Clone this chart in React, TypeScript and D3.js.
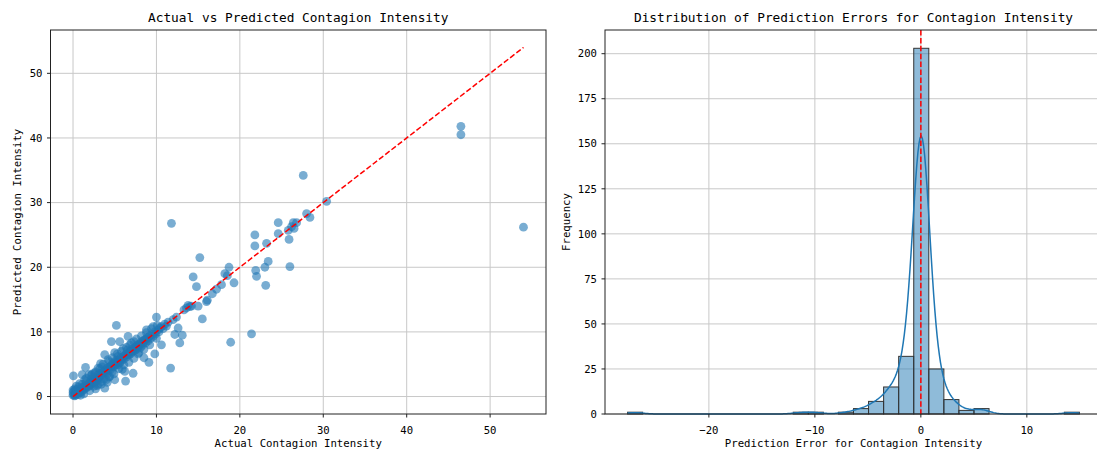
import { useEffect, useRef } from 'react';
import * as d3 from 'd3';

// [actual, predicted]
const scatterPoints: [number, number][] = [
  [0.0, 0.2], [0.0, 0.6], [0.0, 1.0], [0.05, 3.2], [0.1, 0.3], [0.1, 0.8], [0.2, 0.1], [0.2, 1.2], [0.3, 0.5], [0.3, 0.9],
  [0.4, 0.4], [0.5, 0.7], [0.5, 1.1], [0.6, 0.3], [0.7, 0.9], [0.7, 1.5], [0.8, 0.6], [0.9, 1.0], [1.0, 0.7], [1.0, 1.3],
  [1.1, 1.9], [1.1, 3.4], [1.2, 1.0], [1.3, 1.5], [1.4, 1.2], [1.5, 1.7], [1.5, 4.5], [1.6, 2.3], [1.7, 1.4], [1.8, 1.9],
  [1.9, 3.4], [1.9, 1.6], [2.0, 2.2], [2.1, 1.8], [2.2, 2.7], [2.3, 2.0], [2.4, 2.5], [2.5, 3.0], [2.5, 1.6], [2.6, 2.2],
  [2.7, 1.2], [2.7, 3.8], [2.8, 2.8], [2.9, 2.5], [3.0, 3.3], [3.0, 4.4],
  [3.1, 2.9], [3.2, 3.6], [3.3, 3.1], [3.4, 2.3], [3.5, 3.7], [3.5, 4.6], [3.6, 3.4], [3.7, 2.7], [3.8, 4.0], [3.8, 6.5],
  [3.8, 1.3], [3.9, 3.7], [4.0, 4.3], [4.1, 3.5], [4.2, 5.7], [4.2, 4.5], [4.3, 3.0], [4.4, 4.6], [4.5, 4.2], [4.6, 8.5],
  [4.6, 4.9], [4.7, 3.8], [4.8, 5.1], [4.9, 4.6], [5.0, 5.4], [5.0, 2.6], [5.1, 4.9], [5.2, 11.0], [5.2, 5.6], [5.3, 5.1],
  [5.4, 4.9], [5.4, 6.2], [5.5, 5.7], [5.6, 8.5], [5.6, 5.2], [5.7, 6.0], [5.8, 5.5], [5.9, 4.2], [6.0, 6.2],
  [6.1, 5.8], [6.2, 3.9], [6.3, 2.4], [6.3, 6.5], [6.4, 6.1], [6.5, 7.2], [6.6, 9.3], [6.6, 6.7], [6.7, 6.4], [6.8, 8.0],
  [6.8, 7.0], [6.9, 6.6], [7.0, 7.3], [7.1, 6.9], [7.2, 3.6], [7.2, 7.4], [7.3, 8.5], [7.4, 7.1], [7.5, 7.7], [7.6, 7.3],
  [7.7, 8.0], [7.8, 6.6], [7.9, 7.8], [8.0, 8.2], [8.1, 7.6], [8.2, 8.5], [8.3, 7.9], [8.4, 8.6], [8.5, 6.0], [8.6, 8.8],
  [8.7, 8.3], [8.8, 10.3], [8.9, 9.1], [9.0, 8.6], [9.1, 5.3], [9.2, 9.4], [9.3, 9.0], [9.4, 10.5], [9.5, 9.6], [9.6, 9.3],
  [9.8, 6.6], [9.8, 10.0], [9.9, 9.7],
  [10.0, 12.3], [10.1, 11.0], [10.2, 10.3], [10.3, 10.0], [10.4, 10.6], [10.6, 8.0], [10.6, 10.8], [10.8, 10.5], [11.0, 11.2],
  [11.2, 10.9], [11.4, 11.5], [11.7, 4.4], [11.8, 26.8], [12.0, 11.9], [12.2, 9.6], [12.4, 12.3], [12.6, 10.6], [12.8, 8.3],
  [13.1, 9.5], [13.3, 13.4], [13.6, 13.7], [13.8, 14.1], [14.0, 13.9],
  [14.2, 14.0], [14.4, 18.5], [14.8, 17.0], [15.0, 14.0], [15.2, 21.5], [15.5, 12.0], [16.0, 14.7], [16.1, 14.9], [16.7, 15.9],
  [17.2, 16.6], [17.8, 17.3], [18.2, 19.0], [18.5, 18.7], [18.7, 20.0], [18.9, 8.4], [19.3, 17.6], [21.4, 9.7], [21.8, 25.0],
  [21.8, 23.3], [21.9, 19.5], [22.0, 18.6], [23.0, 20.0], [23.1, 17.2], [23.2, 23.7], [23.4, 20.9],
  [24.6, 26.9], [24.6, 25.2], [25.8, 25.7], [25.9, 24.3], [26.0, 20.1], [26.2, 26.3], [26.4, 26.9], [26.8, 26.9], [26.5, 26.0],
  [27.6, 34.2], [28.0, 28.3], [28.4, 27.7], [30.4, 30.2], [46.5, 41.8], [46.5, 40.5], [54.0, 26.2],
  [0.3, 0.2], [0.6, 0.6], [0.9, 0.8], [1.2, 1.4], [1.5, 1.4], [1.8, 1.7], [2.1, 2.1], [2.4, 2.3], [2.7, 2.6], [3.0, 2.9],
  [3.3, 3.4], [3.6, 3.7], [3.9, 4.0], [4.2, 4.1], [4.5, 4.6], [4.8, 4.7], [5.1, 5.2], [5.4, 5.4], [5.7, 5.6], [6.0, 6.0],
  [6.3, 6.4], [6.6, 6.5], [6.9, 7.0], [7.2, 7.1], [7.5, 7.5], [7.8, 7.9], [8.1, 8.1], [8.4, 8.3], [8.7, 8.8], [9.0, 9.1],
  [0.4, 1.6], [0.8, 2.0], [1.3, 0.4], [1.6, 2.8], [2.0, 0.9], [2.2, 3.3], [2.6, 3.6], [2.9, 1.7], [3.2, 4.3], [3.4, 1.9],
  [3.6, 5.0], [4.0, 2.6], [4.3, 5.4], [4.4, 3.1], [4.7, 6.0], [4.9, 3.5], [5.3, 6.6], [5.5, 4.3], [5.8, 7.0], [6.1, 4.9],
  [6.4, 7.6], [6.7, 5.3], [7.0, 8.3], [7.3, 5.9], [7.6, 8.9], [7.9, 6.8], [8.2, 9.4], [8.5, 7.3], [8.8, 9.9], [9.2, 8.0],
  [9.6, 10.8], [10.0, 9.0], [3.0, 1.9], [2.3, 3.5], [1.4, 2.6], [0.9, 0.2], [5.0, 6.8], [6.0, 7.4], [4.1, 2.2], [3.3, 5.1],
];

// histogram of prediction errors (predicted - actual), 30 bins
const errorMin = -27.67;
const errorMax = 14.96;
const binCounts = [1, 0, 0, 0, 0, 0, 0, 0, 0, 0, 0, 1, 1, 0, 1, 3, 7, 15, 32, 203, 25, 8, 2, 3, 0, 0, 0, 0, 0, 1];

const scatterTicks = [0, 10, 20, 30, 40, 50];
const errorTicks = [-20, -10, 0, 10];
const countTicks = [0, 25, 50, 75, 100, 125, 150, 175, 200];

const FONT = '"DejaVu Sans Mono", "Liberation Mono", monospace';
const BLUE = '#1f77b4';
const GRID = '#c8c8c8';

const pad5 = (lo: number, hi: number): [number, number] => {
  const m = (hi - lo) * 0.05;
  return [lo - m, hi + m];
};
const fmt = (v: number) => (v < 0 ? '\u2212' + Math.abs(v) : String(v));

export default function App() {
  const svgRef = useRef<SVGSVGElement>(null);

  useEffect(() => {
    if (!svgRef.current) return;
    const svg = d3.select(svgRef.current);
    svg.selectAll('*').remove();

    const top = 30, bottom = 414;

    const drawGrid = (g: any, x: any, y: any, xt: number[], yt: number[], x0: number, x1: number) => {
      xt.forEach(t => {
        g.append('line').attr('x1', x(t)).attr('x2', x(t)).attr('y1', top).attr('y2', bottom)
          .attr('stroke', GRID).attr('stroke-width', 1);
      });
      yt.forEach(t => {
        g.append('line').attr('x1', x0).attr('x2', x1).attr('y1', y(t)).attr('y2', y(t))
          .attr('stroke', GRID).attr('stroke-width', 1);
      });
    };

    const drawTicks = (g: any, x: any, y: any, xt: number[], yt: number[], x0: number, x1: number) => {
      g.append('rect').attr('x', x0).attr('y', top).attr('width', x1 - x0).attr('height', bottom - top)
        .attr('fill', 'none').attr('stroke', '#222').attr('stroke-width', 1);
      xt.forEach(t => {
        g.append('line').attr('x1', x(t)).attr('x2', x(t)).attr('y1', bottom).attr('y2', bottom + 3.5)
          .attr('stroke', '#222');
        g.append('text').attr('x', x(t)).attr('y', 430).attr('dy', '0.35em').attr('text-anchor', 'middle')
          .attr('font-family', FONT).attr('font-size', 10.6).text(fmt(t));
      });
      yt.forEach(t => {
        g.append('line').attr('x1', x0 - 3.5).attr('x2', x0).attr('y1', y(t)).attr('y2', y(t))
          .attr('stroke', '#222');
        g.append('text').attr('x', x0 - 8).attr('y', y(t)).attr('dy', '0.35em').attr('text-anchor', 'end')
          .attr('font-family', FONT).attr('font-size', 10.6).text(fmt(t));
      });
    };

    // ---- left: actual vs predicted ----
    const L0 = 50.5, L1 = 546;
    const actual = scatterPoints.map(d => d[0]);
    const predicted = scatterPoints.map(d => d[1]);
    const lineLo = d3.min(actual)!, lineHi = d3.max(actual)!;
    const x = d3.scaleLinear().domain(pad5(lineLo, lineHi)).range([L0, L1]);
    const y = d3.scaleLinear()
      .domain(pad5(Math.min(d3.min(predicted)!, lineLo), Math.max(d3.max(predicted)!, lineHi)))
      .range([bottom, top]);

    const gl = svg.append('g');
    drawGrid(gl, x, y, scatterTicks, scatterTicks, L0, L1);
    gl.append('g').selectAll('circle').data(scatterPoints).join('circle')
      .attr('cx', d => x(d[0])).attr('cy', d => y(d[1])).attr('r', 4.4)
      .attr('fill', BLUE).attr('fill-opacity', 0.6);
    gl.append('line').attr('x1', x(lineLo)).attr('y1', y(lineLo)).attr('x2', x(lineHi)).attr('y2', y(lineHi))
      .attr('stroke', 'red').attr('stroke-width', 1.5).attr('stroke-dasharray', '5.5,2.4');
    drawTicks(gl, x, y, scatterTicks, scatterTicks, L0, L1);

    gl.append('text').attr('x', (L0 + L1) / 2).attr('y', 18).attr('dy', '0.35em').attr('text-anchor', 'middle')
      .attr('font-family', FONT).attr('font-size', 12.8).text('Actual vs Predicted Contagion Intensity');
    gl.append('text').attr('x', (L0 + L1) / 2).attr('y', 443).attr('dy', '0.35em').attr('text-anchor', 'middle')
      .attr('font-family', FONT).attr('font-size', 10.7).text('Actual Contagion Intensity');
    gl.append('text').attr('transform', 'translate(17,' + (top + bottom) / 2 + ') rotate(-90)')
      .attr('dy', '0.35em').attr('text-anchor', 'middle')
      .attr('font-family', FONT).attr('font-size', 10.7).text('Predicted Contagion Intensity');

    // ---- right: error distribution ----
    const R0 = 605, R1 = 1102;
    const nb = binCounts.length;
    const bw = (errorMax - errorMin) / nb;
    const edges = d3.range(nb + 1).map(i => errorMin + i * bw);
    const xr = d3.scaleLinear().domain(pad5(errorMin, errorMax)).range([R0, R1]);
    const yr = d3.scaleLinear().domain([0, d3.max(binCounts)! * 1.05]).range([bottom, top]);

    const gr = svg.append('g');
    drawGrid(gr, xr, yr, errorTicks, countTicks, R0, R1);

    const bins = binCounts.map((c, i) => ({ lo: edges[i], hi: edges[i + 1], c })).filter(b => b.c > 0);
    gr.append('g').selectAll('rect').data(bins).join('rect')
      .attr('x', d => xr(d.lo)).attr('width', d => xr(d.hi) - xr(d.lo))
      .attr('y', d => yr(d.c)).attr('height', d => yr(0) - yr(d.c))
      .attr('fill', BLUE).attr('fill-opacity', 0.5).attr('stroke', '#333').attr('stroke-width', 1);

    // gaussian KDE (scott) on the binned errors, scaled to counts
    const centers = binCounts.map((_, i) => (edges[i] + edges[i + 1]) / 2);
    const n = d3.sum(binCounts);
    const mean = d3.sum(binCounts.map((c, i) => c * centers[i])) / n;
    const sd = Math.sqrt(d3.sum(binCounts.map((c, i) => c * (centers[i] - mean) ** 2)) / (n - 1));
    const h = sd * Math.pow(n, -0.2);
    const kde = (v: number) => d3.sum(binCounts.map((c, i) => c * Math.exp(-0.5 * ((v - centers[i]) / h) ** 2)))
      / (n * h * Math.sqrt(2 * Math.PI));
    const grid = d3.range(0, 401).map(i => errorMin + (errorMax - errorMin) * i / 400);
    const kdeLine = d3.line<number>().x(v => xr(v)).y(v => yr(kde(v) * n * bw));
    gr.append('path').attr('d', kdeLine(grid)).attr('fill', 'none').attr('stroke', BLUE).attr('stroke-width', 1.5);

    gr.append('line').attr('x1', xr(0)).attr('x2', xr(0)).attr('y1', top).attr('y2', bottom)
      .attr('stroke', 'red').attr('stroke-width', 1.5).attr('stroke-dasharray', '5.5,2.4');
    drawTicks(gr, xr, yr, errorTicks, countTicks, R0, R1);

    gr.append('text').attr('x', (R0 + R1) / 2).attr('y', 18).attr('dy', '0.35em').attr('text-anchor', 'middle')
      .attr('font-family', FONT).attr('font-size', 12.8).text('Distribution of Prediction Errors for Contagion Intensity');
    gr.append('text').attr('x', (R0 + R1) / 2).attr('y', 443).attr('dy', '0.35em').attr('text-anchor', 'middle')
      .attr('font-family', FONT).attr('font-size', 10.7).text('Prediction Error for Contagion Intensity');
    gr.append('text').attr('transform', 'translate(566,' + (top + bottom) / 2 + ') rotate(-90)')
      .attr('dy', '0.35em').attr('text-anchor', 'middle')
      .attr('font-family', FONT).attr('font-size', 10.7).text('Frequency');
  }, []);

  return (
    <svg ref={svgRef} width={1097} height={452}
      style={{ position: 'absolute', left: 0, top: 0, background: '#fff' }} />
  );
}
